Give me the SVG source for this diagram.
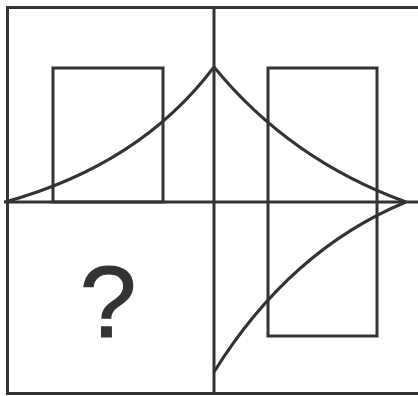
<svg xmlns="http://www.w3.org/2000/svg" width="418" height="396" viewBox="0 0 418 396">
<style>
.ln{fill:none;stroke:#333333;stroke-width:3;}
.q{font-family:"Liberation Sans",Arial,sans-serif;font-size:102px;fill:#333333;stroke:#333333;stroke-width:1.2;}
</style>
<rect width="418" height="396" fill="#ffffff"/>
<g id="frame">
<path class="ln" d="M420,7.5 H7.5 V393.5 H420"/>
</g>
<g id="axes">
<line class="ln" x1="214" y1="7" x2="214" y2="394"/>
<line class="ln" x1="4" y1="202" x2="418" y2="202"/>
</g>
<g id="rect-left">
<rect class="ln" x="53" y="68" width="110" height="134"/>
</g>
<g id="rect-right">
<rect class="ln" x="268" y="68" width="109" height="268"/>
</g>
<g id="curves">
<path class="ln" d="M5,202 Q140,165 214,67"/>
<path class="ln" d="M214,67 Q290,160 406,202"/>
<path class="ln" d="M406,202 Q290,250 214,372"/>
</g>
<g id="question">
<text class="q" x="108" y="337" text-anchor="middle">?</text>
</g>
</svg>
